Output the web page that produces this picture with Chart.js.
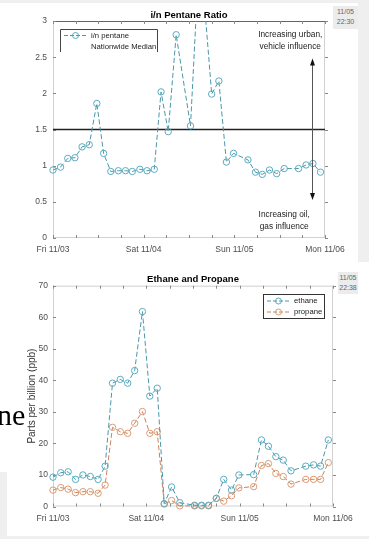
<!DOCTYPE html>
<html><head><meta charset="utf-8">
<script src="https://cdn.jsdelivr.net/npm/chart.js@4/dist/chart.umd.min.js"></script>
<style>
html,body{margin:0;padding:0;}
body{width:369px;height:539px;position:relative;overflow:hidden;background:#fff;font-family:"Liberation Sans",Arial,sans-serif;}
.g{position:absolute;background:#efefef;}
canvas{position:absolute;left:0;}
.ts{position:absolute;background:#ececec;color:#666;font-size:7px;line-height:10px;text-align:center;z-index:3;}
#ne{position:absolute;left:-3px;top:398px;font-family:"Liberation Serif","Times New Roman",serif;font-size:30px;line-height:34px;color:#000;z-index:3;}
</style></head>
<body>
<div class="g" style="left:0;top:0;width:369px;height:3px"></div>
<div class="g" style="left:358px;top:0;width:11px;height:262px"></div>
<div class="g" style="left:0;top:472px;width:7px;height:67px"></div>
<div class="g" style="left:0;top:536px;width:369px;height:3px"></div>
<canvas id="c1" width="369" height="258" style="top:0"></canvas>
<canvas id="c2" width="369" height="281" style="top:258px"></canvas>
<div class="ts" style="left:333px;top:6px;width:25px;height:22px;padding-top:1px">11/05<br>22:30</div>
<div class="ts" style="left:338px;top:272px;width:20px;height:21px;padding-top:1px">11/05<br>22:38</div>
<div id="ne">ne</div>
<script>
// ---- data (hours since Fri 11/03 00:00) ----
const hours = [0,2,3.9,5.8,7.7,9.6,11.6,13.4,15.3,17.3,19.2,21,23,24.9,26.8,28.6,30.5,32.6,36.4,38.2,40,42,43.9,45.9,47.8,51.6,53.6,55.4,57.3,59.2,61.2,65,67,68.8,70.8];
const pentaneRatio = [0.94,0.98,1.10,1.11,1.26,1.29,1.86,1.17,0.92,0.93,0.93,0.92,0.95,0.93,0.95,2.02,1.47,2.81,1.55,3.4,3.3,1.99,2.17,1.05,1.17,1.08,0.91,0.88,0.94,0.89,0.96,0.96,1.01,1.03,0.91];
const nationwideMedian = 1.5;
const ethane = [9.3,10.7,11.0,8.6,10.0,9.5,8.6,12.8,39.1,40.3,39.1,43.1,61.8,35.0,37.5,0.9,6.2,1.2,0.4,0.4,0.4,2.6,8.6,5.2,10.0,10.1,21.1,19.1,15.8,14.7,11.3,12.8,13.2,12.8,21.1];
const propane = [5.2,6.0,5.5,4.4,4.7,4.7,4.2,6.8,25.1,23.7,23.2,26.4,30.1,23.2,23.7,0.8,1.9,0.2,0.2,0.2,0.2,2.6,1.7,3.4,5.9,6.3,13.0,13.6,10.5,9.5,7.1,8.6,8.6,8.6,13.9];
const dayTickLabels = ['Fri 11/03','Sat 11/04','Sun 11/05','Mon 11/06'];
const topTitle = 'i/n Pentane Ratio';
const bottomTitle = 'Ethane and Propane';
const bottomYTitle = 'Parts per billion (ppb)';
const urbanText = ['Increasing urban,','vehicle influence'];
const oilText = ['Increasing oil,','gas influence'];

const TEAL_LINE = '#4a97a9', TEAL_PT = '#5aacbf';
const ORANGE_LINE = '#c9825a', ORANGE_PT = '#dd9a72';
const TICK_FONT = {family:'"Liberation Sans", Arial, sans-serif', size:8.5};
const TICK_COLOR = '#4d4d4d';

const pts = arr => hours.map((h,i)=>({x:h,y:arr[i]}));

function xScale(h){
  return {
    type:'linear', min:0, max:72, offset:false,
    afterFit:s=>{s.height=h;},
    grid:{display:false, drawTicks:false}, border:{display:false},
    ticks:{stepSize:6, autoSkip:false, maxRotation:0, padding:7, color:TICK_COLOR, font:TICK_FONT,
      callback:v=> (v%24===0 ? dayTickLabels[v/24] : '')}
  };
}

function framePlugin(topColor){
  return {id:'frame', beforeDatasetsDraw(chart){
    const {ctx, chartArea:a, scales:{x,y}} = chart;
    ctx.save(); ctx.lineWidth=1;
    ctx.strokeStyle='#d2d2d2';
    ctx.beginPath();
    ctx.moveTo(a.left+0.5,a.top); ctx.lineTo(a.left+0.5,a.bottom);
    ctx.moveTo(a.right-0.5,a.top); ctx.lineTo(a.right-0.5,a.bottom);
    ctx.moveTo(a.left,a.bottom-0.5); ctx.lineTo(a.right,a.bottom-0.5);
    ctx.stroke();
    ctx.strokeStyle=topColor; ctx.beginPath();
    ctx.moveTo(a.left,a.top+0.5); ctx.lineTo(a.right,a.top+0.5); ctx.stroke();
    ctx.strokeStyle='#888'; ctx.beginPath();
    x.ticks.forEach(t=>{const p=Math.round(x.getPixelForValue(t.value))+0.5;
      ctx.moveTo(p,a.bottom); ctx.lineTo(p,a.bottom-3); ctx.moveTo(p,a.top); ctx.lineTo(p,a.top+3);});
    y.ticks.forEach(t=>{const p=Math.round(y.getPixelForValue(t.value))+0.5;
      ctx.moveTo(a.left,p); ctx.lineTo(a.left+3,p); ctx.moveTo(a.right,p); ctx.lineTo(a.right+3,p);});
    ctx.stroke(); ctx.restore();
  }};
}

function legendSample(ctx,x0,x1,yy,lc,pc){
  ctx.save();
  ctx.strokeStyle=lc; ctx.lineWidth=1; ctx.setLineDash([4,2]);
  ctx.beginPath(); ctx.moveTo(x0,yy); ctx.lineTo(x1,yy); ctx.stroke();
  ctx.setLineDash([]); ctx.strokeStyle=pc;
  ctx.beginPath(); ctx.arc((x0+x1)/2,yy,3,0,Math.PI*2); ctx.stroke();
  ctx.restore();
}

const topDecor = {id:'topDecor', afterDraw(chart){
  const {ctx, chartArea:a, scales:{x,y}} = chart;
  ctx.save();
  const L=a.left+7, T=a.top+8, W=97, H=23;
  ctx.strokeStyle='#444'; ctx.lineWidth=1; ctx.beginPath();
  ctx.moveTo(L+0.5,T+H); ctx.lineTo(L+0.5,T+0.5); ctx.lineTo(L+W+0.5,T+0.5); ctx.lineTo(L+W+0.5,T+H); ctx.stroke();
  legendSample(ctx,L+4,L+27,T+6.5,TEAL_LINE,TEAL_PT);
  ctx.fillStyle='#222'; ctx.font='7.7px "Liberation Sans", Arial, sans-serif'; ctx.textBaseline='middle'; ctx.textAlign='left';
  ctx.fillText('i/n pentane',L+31,T+6.5);
  ctx.fillText('Nationwide Median',L+31,T+18);
  ctx.font='8.3px "Liberation Sans", Arial, sans-serif'; ctx.textAlign='center'; ctx.fillStyle='#222';
  ctx.fillText(urbanText[0], x.getPixelForValue(62.8), y.getPixelForValue(2.81));
  ctx.fillText(urbanText[1], x.getPixelForValue(62.8), y.getPixelForValue(2.645));
  ctx.fillText(oilText[0], x.getPixelForValue(61.2), y.getPixelForValue(0.32));
  ctx.fillText(oilText[1], x.getPixelForValue(61.2), y.getPixelForValue(0.155));
  const ax=Math.round(x.getPixelForValue(68.6))+0.5, ty=y.getPixelForValue(2.48), by=y.getPixelForValue(0.525);
  ctx.strokeStyle='#555'; ctx.beginPath(); ctx.moveTo(ax,ty+3); ctx.lineTo(ax,by-3); ctx.stroke();
  ctx.fillStyle='#111';
  ctx.beginPath(); ctx.moveTo(ax,ty); ctx.lineTo(ax-2.5,ty+7); ctx.lineTo(ax+2.5,ty+7); ctx.closePath(); ctx.fill();
  ctx.beginPath(); ctx.moveTo(ax,by); ctx.lineTo(ax-2.5,by-7); ctx.lineTo(ax+2.5,by-7); ctx.closePath(); ctx.fill();
  ctx.restore();
}};

const bottomDecor = {id:'bottomDecor', afterDraw(chart){
  const {ctx, chartArea:a} = chart;
  ctx.save();
  const L=a.right-70, T=a.top+8.3, W=61, H=24;
  ctx.strokeStyle='#333'; ctx.lineWidth=1;
  ctx.strokeRect(L+0.5,T+0.5,W,H);
  legendSample(ctx,L+4,L+27,T+7,TEAL_LINE,TEAL_PT);
  legendSample(ctx,L+4,L+27,T+18,ORANGE_LINE,ORANGE_PT);
  ctx.fillStyle='#222'; ctx.font='7.7px "Liberation Sans", Arial, sans-serif'; ctx.textBaseline='middle'; ctx.textAlign='left';
  ctx.fillText('ethane',L+31,T+7);
  ctx.fillText('propane',L+31,T+18);
  ctx.restore();
}};

const seriesStyle = (lc,pc)=>({borderColor:lc, borderWidth:1, borderDash:[5,2.5], pointStyle:'circle',
  pointRadius:3.2, pointBorderColor:pc, pointBackgroundColor:'rgba(0,0,0,0)', pointBorderWidth:1, tension:0});

new Chart(document.getElementById('c1'), {
  type:'line',
  data:{datasets:[
    Object.assign({label:'i/n pentane', data:pts(pentaneRatio), clip:{left:5,right:5,top:0,bottom:5}}, seriesStyle(TEAL_LINE,TEAL_PT)),
    {label:'Nationwide Median', data:[{x:0,y:nationwideMedian},{x:72,y:nationwideMedian}], borderColor:'#222', borderWidth:1.3, pointRadius:0}
  ]},
  options:{
    responsive:false, animation:false, devicePixelRatio:1,
    layout:{padding:{left:0,right:44,top:0,bottom:0}},
    plugins:{legend:{display:false}, tooltip:{enabled:false},
      title:{display:true, text:topTitle, fullSize:false, color:'#000',
        font:{family:'"Liberation Sans", Arial, sans-serif', size:9.5, weight:'bold'}, padding:{top:9.3,bottom:0.3}}},
    scales:{
      x:xScale(20),
      y:{type:'linear', min:0, max:3, afterFit:s=>{s.width=53;},
        grid:{display:false, drawTicks:false}, border:{display:false},
        ticks:{stepSize:0.5, padding:6, color:TICK_COLOR, font:TICK_FONT, callback:v=>String(Math.round(v*10)/10)}}
    }
  },
  plugins:[framePlugin('#666'), topDecor]
});

new Chart(document.getElementById('c2'), {
  type:'line',
  data:{datasets:[
    Object.assign({label:'ethane', data:pts(ethane), clip:5}, seriesStyle(TEAL_LINE,TEAL_PT)),
    Object.assign({label:'propane', data:pts(propane), clip:5}, seriesStyle(ORANGE_LINE,ORANGE_PT))
  ]},
  options:{
    responsive:false, animation:false, devicePixelRatio:1,
    layout:{padding:{left:0,right:36,top:0,bottom:0}},
    plugins:{legend:{display:false}, tooltip:{enabled:false},
      title:{display:true, text:bottomTitle, fullSize:false, color:'#000',
        font:{family:'"Liberation Sans", Arial, sans-serif', size:9.5, weight:'bold'}, padding:{top:15.3,bottom:1}}},
    scales:{
      x:xScale(32.5),
      y:{type:'linear', min:0, max:70, afterFit:s=>{s.width=53;},
        grid:{display:false, drawTicks:false}, border:{display:false},
        title:{display:true, text:bottomYTitle, color:'#333', font:{family:'"Liberation Sans", Arial, sans-serif', size:10}, padding:{top:26,bottom:0}},
        ticks:{stepSize:10, padding:5, color:TICK_COLOR, font:TICK_FONT}}
    }
  },
  plugins:[framePlugin('#cfcfcf'), bottomDecor]
});
</script>
</body></html>
